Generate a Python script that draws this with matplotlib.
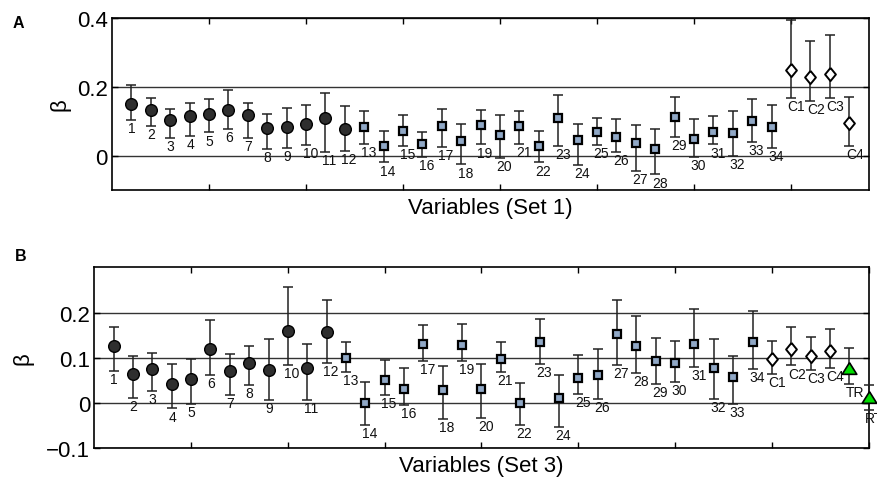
import matplotlib
matplotlib.use('Agg')
import matplotlib.pyplot as plt

plt.rcParams['font.family'] = ['Liberation Sans', 'DejaVu Sans']

# Panel A (Set 1): 34 variables + 4 controls
a_labels = [str(i) for i in range(1, 35)] + ['C1', 'C2', 'C3', 'C4']
a_val = [0.150, 0.133, 0.104, 0.114, 0.121, 0.133, 0.116, 0.081, 0.084, 0.091, 0.108, 0.078,
         0.084, 0.028, 0.070, 0.032, 0.086, 0.041, 0.088, 0.059, 0.085, 0.028, 0.108, 0.044,
         0.067, 0.053, 0.036, 0.020, 0.113, 0.048, 0.068, 0.064, 0.100, 0.082,
         0.249, 0.229, 0.236, 0.094]
a_low = [0.102, 0.085, 0.050, 0.057, 0.067, 0.078, 0.051, 0.019, 0.021, 0.030, 0.010, 0.013,
         0.033, -0.020, 0.029, -0.004, 0.026, -0.026, 0.032, -0.007, 0.034, -0.020, 0.028, -0.027,
         0.031, 0.010, -0.046, -0.055, 0.055, -0.003, 0.032, -0.001, 0.040, 0.021,
         0.168, 0.159, 0.166, 0.028]
a_high = [0.203, 0.168, 0.136, 0.151, 0.165, 0.190, 0.151, 0.119, 0.137, 0.147, 0.181, 0.143,
          0.129, 0.072, 0.116, 0.069, 0.136, 0.091, 0.133, 0.116, 0.129, 0.071, 0.175, 0.092,
          0.108, 0.106, 0.088, 0.077, 0.171, 0.105, 0.114, 0.129, 0.164, 0.145,
          0.394, 0.331, 0.349, 0.171]
a_kind = ['c'] * 12 + ['s'] * 22 + ['d'] * 4

# Panel B (Set 3): 34 variables + 4 controls + TR, RT
b_labels = [str(i) for i in range(1, 35)] + ['C1', 'C2', 'C3', 'C4', 'TR', 'RT']
b_val = [0.125, 0.065, 0.075, 0.043, 0.053, 0.119, 0.070, 0.089, 0.072, 0.160, 0.078, 0.158,
         0.099, 0.000, 0.051, 0.032, 0.131, 0.029, 0.129, 0.030, 0.098, 0.001, 0.135, 0.012,
         0.056, 0.062, 0.152, 0.125, 0.094, 0.089, 0.131, 0.077, 0.058, 0.136,
         0.097, 0.119, 0.104, 0.114, 0.078, 0.014]
b_low = [0.071, 0.012, 0.026, -0.012, -0.001, 0.062, 0.018, 0.040, 0.006, 0.084, 0.007, 0.089,
         0.068, -0.048, 0.017, -0.005, 0.093, -0.035, 0.093, -0.033, 0.068, -0.048, 0.087, -0.053,
         0.021, 0.010, 0.084, 0.066, 0.043, 0.047, 0.080, 0.010, -0.002, 0.076,
         0.064, 0.083, 0.073, 0.077, 0.043, -0.016]
b_high = [0.168, 0.105, 0.111, 0.087, 0.097, 0.184, 0.109, 0.126, 0.141, 0.257, 0.130, 0.227,
          0.135, 0.046, 0.095, 0.078, 0.172, 0.082, 0.175, 0.087, 0.134, 0.045, 0.185, 0.063,
          0.106, 0.119, 0.228, 0.193, 0.144, 0.137, 0.207, 0.141, 0.103, 0.203,
          0.138, 0.169, 0.145, 0.163, 0.121, 0.040]
b_kind = ['c'] * 12 + ['s'] * 22 + ['d'] * 4 + ['t'] * 2

diamond = [(0, 1), (0.82, 0), (0, -1), (-0.82, 0), (0, 1)]
triangle = [(0, 0.8), (1, -0.8), (-1, -0.8), (0, 0.8)]
styles = {
    'c': dict(marker='o', ms=8.4, mfc='#2e2e2e', mec='black', mew=1.0),
    's': dict(marker='s', ms=5.8, mfc='#90a8c6', mec='black', mew=1.6),
    'd': dict(marker=diamond, ms=9.5, mfc='white', mec='black', mew=1.4),
    't': dict(marker=triangle, ms=10.5, mfc='#00dd00', mec='black', mew=1.2),
}


def panel(ax, labels, val, low, high, kind, xmax, yticks, ylim, xlabel, ylpad):
    x = list(range(1, len(val) + 1))
    for i in range(len(val)):
        ax.errorbar(x[i], val[i], yerr=[[val[i] - low[i]], [high[i] - val[i]]],
                    fmt='none', ecolor='#222222', elinewidth=1.1, capsize=3.4,
                    capthick=1.1, zorder=3, clip_on=False)
        ax.plot(x[i], val[i], linestyle='none', zorder=4, clip_on=False, **styles[kind[i]])
        ax.annotate(labels[i], (x[i], low[i]), xytext=(-2.5, -0.8),
                    textcoords='offset points', ha='left', va='top',
                    fontsize=10, color='#111111', zorder=5, annotation_clip=False)
    ax.set_xlim(0, xmax)
    ax.set_ylim(*ylim)
    ax.set_xticks(range(5, xmax + 1, 5))
    ax.set_xticklabels([])
    ax.set_yticks(yticks)
    ax.set_yticklabels(['\u22120.1' if t < 0 else ('0' if t == 0 else f'{t:g}') for t in yticks])
    ax.yaxis.grid(True, color='#333333', linewidth=1.0)
    ax.set_axisbelow(True)
    ax.tick_params(direction='in', top=True, right=True, length=4.5, width=1.0,
                   labelsize=16, pad=3)
    for s in ax.spines.values():
        s.set_linewidth(1.2)
    ax.set_xlabel(xlabel, fontsize=16, labelpad=2)
    ax.set_ylabel('\u03b2', fontsize=16, labelpad=ylpad)


fig = plt.figure(figsize=(8.78, 4.81), dpi=100)
axA = fig.add_axes([0.1276, 0.6029, 0.8618, 0.3586])
axB = fig.add_axes([0.1074, 0.0659, 0.8820, 0.3763])

panel(axA, a_labels, a_val, a_low, a_high, a_kind, 39, [0, 0.2, 0.4], (-0.1, 0.4),
      'Variables (Set 1)', 5)
panel(axB, b_labels, b_val, b_low, b_high, b_kind, 40, [-0.1, 0, 0.1, 0.2], (-0.1, 0.3),
      'Variables (Set 3)', 9)

fig.text(0.0148, 0.966, 'A', fontsize=11.5, fontweight='bold', va='top')
fig.text(0.0171, 0.482, 'B', fontsize=11.5, fontweight='bold', va='top')

fig.savefig('out.png', dpi=100)
